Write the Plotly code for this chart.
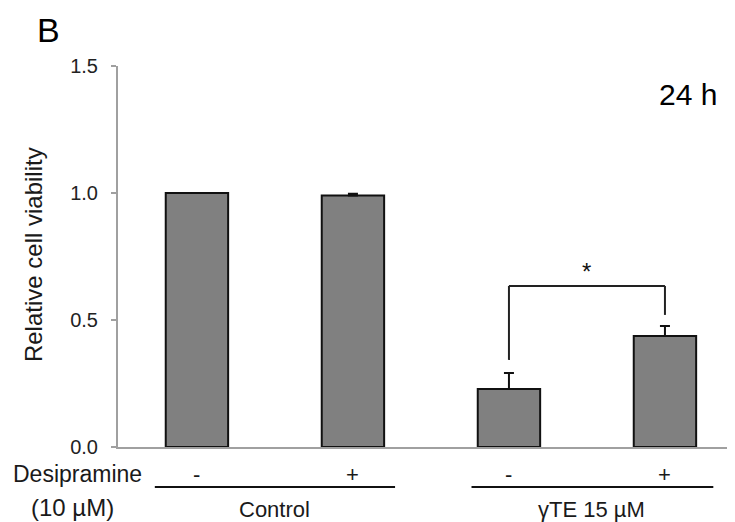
import plotly.graph_objects as go

# ---- data ----
groups = ["Control", "Control", "γTE 15 µM", "γTE 15 µM"]
desipramine = ["-", "+", "-", "+"]
viability = [1.0, 0.99, 0.228, 0.437]
errors = [0.0, 0.007, 0.063, 0.039]
y_ticks = [0.0, 0.5, 1.0, 1.5]
y_tick_labels = ["0.0", "0.5", "1.0", "1.5"]
positions = list(range(len(viability)))

FONT = "Liberation Sans, Arial, sans-serif"
TXT = "#1a1a1a"

fig = go.Figure()
fig.add_trace(go.Bar(
    x=positions, y=viability, width=0.4,
    marker=dict(color="#808080", line=dict(color="#111111", width=2)),
    error_y=dict(type="data", symmetric=False, array=errors,
                 arrayminus=[0] * len(errors),
                 color="#111111", thickness=2, width=5),
    showlegend=False,
))

shapes = []
# significance bracket between bars 3 and 4
shapes.append(dict(type="line", xref="x", yref="y", x0=2, x1=3, y0=0.634, y1=0.634,
                   line=dict(color="#222222", width=2)))
shapes.append(dict(type="line", xref="x", yref="y", x0=2, x1=2, y0=0.634, y1=0.343,
                   line=dict(color="#222222", width=2)))
shapes.append(dict(type="line", xref="x", yref="y", x0=3, x1=3, y0=0.634, y1=0.52,
                   line=dict(color="#222222", width=2)))
# group underlines
shapes.append(dict(type="line", xref="x", yref="paper", x0=-0.27, x1=1.27, y0=-0.105, y1=-0.105,
                   line=dict(color="#111111", width=2)))
shapes.append(dict(type="line", xref="x", yref="paper", x0=1.76, x1=3.31, y0=-0.105, y1=-0.105,
                   line=dict(color="#111111", width=2)))

annotations = []
for p, d in zip(positions, desipramine):
    annotations.append(dict(x=p, y=-0.072, xref="x", yref="paper", text=d, showarrow=False,
                            font=dict(family=FONT, size=22, color=TXT),
                            xanchor="center", yanchor="middle"))
annotations.append(dict(x=0.5, y=-0.163, xref="x", yref="paper", text=groups[0], showarrow=False,
                        font=dict(family=FONT, size=22, color=TXT), xanchor="center", yanchor="middle"))
annotations.append(dict(x=2.53, y=-0.163, xref="x", yref="paper", text=groups[2], showarrow=False,
                        font=dict(family=FONT, size=22, color=TXT), xanchor="center", yanchor="middle"))
annotations.append(dict(x=-0.0656, y=-0.072, xref="paper", yref="paper", text="Desipramine", showarrow=False,
                        font=dict(family=FONT, size=23, color=TXT), xanchor="center", yanchor="middle"))
annotations.append(dict(x=-0.073, y=-0.16, xref="paper", yref="paper", text="(10 µM)", showarrow=False,
                        font=dict(family=FONT, size=24, color=TXT), xanchor="center", yanchor="middle"))
annotations.append(dict(x=-0.136, y=0.504, xref="paper", yref="paper", text="Relative cell viability",
                        showarrow=False, textangle=-90,
                        font=dict(family=FONT, size=24, color=TXT), xanchor="center", yanchor="middle"))
annotations.append(dict(x=0.924, y=0.924, xref="paper", yref="paper", text="24 h", showarrow=False,
                        font=dict(family=FONT, size=30, color="#000000"), xanchor="center", yanchor="middle"))
annotations.append(dict(x=-0.113, y=1.0945, xref="paper", yref="paper", text="B", showarrow=False,
                        font=dict(family=FONT, size=34, color="#000000"), xanchor="center", yanchor="middle"))
annotations.append(dict(x=2.5, y=0.69, xref="x", yref="y", text="*", showarrow=False,
                        font=dict(family=FONT, size=24, color="#111111"), xanchor="center", yanchor="middle"))

# page body has an 8px default margin, so the figure is sized to fit the 735x522 window
fig.update_layout(
    width=727, height=514,
    margin=dict(l=110, r=0, t=58, b=75),
    paper_bgcolor="white", plot_bgcolor="white",
    font=dict(family=FONT, color=TXT),
    shapes=shapes, annotations=annotations,
    xaxis=dict(range=[-0.506, 3.449], showticklabels=False, ticks="", showgrid=False,
               zeroline=False, showline=True, linecolor="#a0a0a0", linewidth=2, fixedrange=True),
    yaxis=dict(range=[0, 1.5], tickvals=y_ticks, ticktext=y_tick_labels, ticks="outside",
               ticklen=5, tickcolor="#a0a0a0", tickwidth=2, showgrid=False, zeroline=False,
               showline=True, linecolor="#a0a0a0", linewidth=2,
               tickfont=dict(family=FONT, size=20, color="#222222"), ticklabelstandoff=9),
    bargap=0.6,
)

fig.write_html("out.html")
